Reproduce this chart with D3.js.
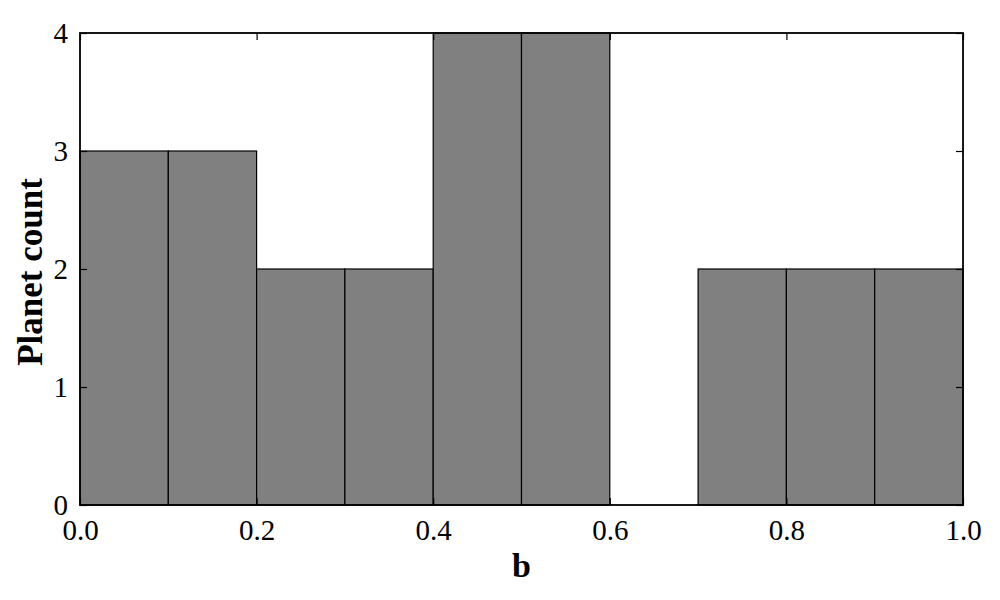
<!DOCTYPE html>
<html><head><meta charset="utf-8">
<script src="https://cdn.jsdelivr.net/npm/d3@7"></script>
<style>body{margin:0;background:#fff}svg{display:block}</style>
</head><body>
<svg id="c" width="1000" height="600"></svg>
<script>
const binStarts = [0.0,0.1,0.2,0.3,0.4,0.5,0.6,0.7,0.8,0.9];
const binWidth = 0.1;
const counts = [3,3,2,2,4,4,0,2,2,2];
const xTicks = [0.0,0.2,0.4,0.6,0.8,1.0];
const yTicks = [0,1,2,3,4];
const xLabel = "b";
const yLabel = "Planet count";

const svg = d3.select("#c");
const m = {l:80, r:963, t:33, b:505};
const x = d3.scaleLinear().domain([0,1]).range([m.l, m.r]);
const y = d3.scaleLinear().domain([0,4]).range([m.b, m.t]);
const font = "'Liberation Serif', 'DejaVu Serif', serif";

svg.append("g").selectAll("rect").data(binStarts.map((s,i)=>({s, c:counts[i]})).filter(d=>d.c>0))
  .join("rect")
  .attr("x", d=>x(d.s)).attr("width", d=>x(d.s+binWidth)-x(d.s))
  .attr("y", d=>y(d.c)).attr("height", d=>y(0)-y(d.c))
  .attr("fill","#808080").attr("stroke","#000").attr("stroke-width",1.2);

const tl = 7;
const xb = svg.append("g").attr("transform",`translate(0,${m.b})`)
  .call(d3.axisBottom(x).tickValues(xTicks).tickFormat(d3.format(".1f")).tickSizeInner(-tl).tickSizeOuter(0).tickPadding(14));
const xt = svg.append("g").attr("transform",`translate(0,${m.t})`)
  .call(d3.axisTop(x).tickValues(xTicks).tickFormat("").tickSizeInner(-tl).tickSizeOuter(0));
const yl = svg.append("g").attr("transform",`translate(${m.l},0)`)
  .call(d3.axisLeft(y).tickValues(yTicks).tickFormat(d3.format("d")).tickSizeInner(-tl).tickSizeOuter(0).tickPadding(12));
const yr = svg.append("g").attr("transform",`translate(${m.r},0)`)
  .call(d3.axisRight(y).tickValues(yTicks).tickFormat("").tickSizeInner(-tl).tickSizeOuter(0));
[xb,xt,yl,yr].forEach(g=>{
  g.select(".domain").remove();
  g.selectAll(".tick line").attr("stroke","#000").attr("stroke-width",1.2);
  g.selectAll("text").attr("font-family",font).attr("font-size",29).attr("fill","#000");
});
xb.selectAll("text").attr("dy","0.71em");

svg.append("rect").attr("x",m.l).attr("y",m.t).attr("width",m.r-m.l).attr("height",m.b-m.t)
  .attr("fill","none").attr("stroke","#000").attr("stroke-width",1.8);

svg.append("text").attr("x",(m.l+m.r)/2).attr("y",577).attr("text-anchor","middle")
  .attr("font-family",font).attr("font-size",34).attr("font-weight","bold").text(xLabel);
svg.append("text").attr("transform",`translate(42,272) rotate(-90)`).attr("text-anchor","middle")
  .attr("font-family",font).attr("font-size",35).attr("font-weight","bold").text(yLabel);
</script>
</body></html>
